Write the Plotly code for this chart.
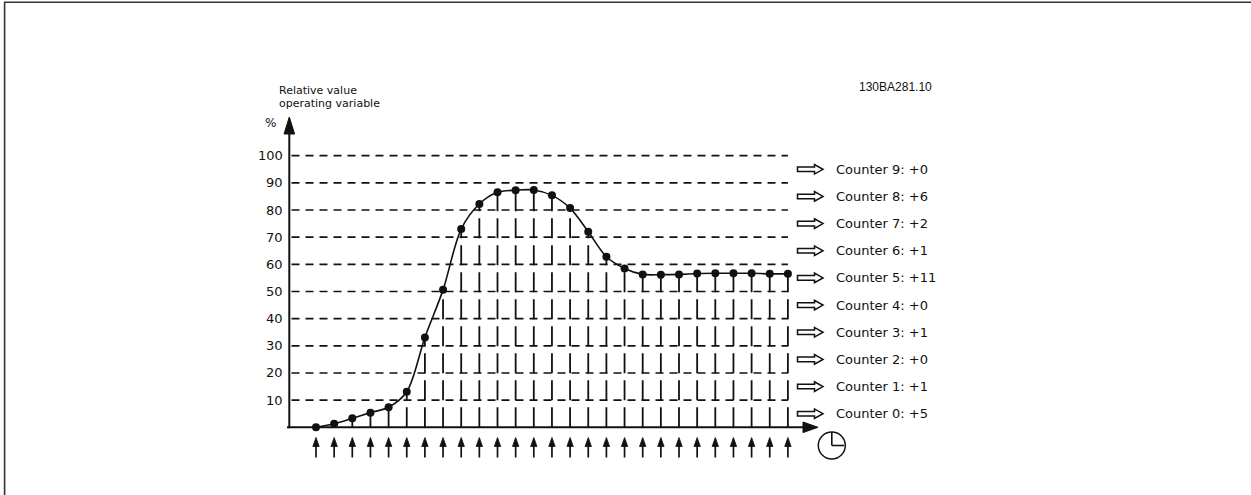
import plotly.graph_objects as go

# ---------------- data ----------------
samples = list(range(27))
values = [0.0, 1.3, 3.3, 5.4, 7.4, 13.1, 33.1, 50.6, 73.0, 82.2, 86.5, 87.3, 87.4,
          85.4, 80.7, 72.0, 62.8, 58.5, 56.3, 56.2, 56.3, 56.6, 56.7, 56.7, 56.7,
          56.5, 56.5]
grid_levels = [10, 20, 30, 40, 50, 60, 70, 80, 90, 100]
tick_labels = ["10", "20", "30", "40", "50", "60", "70", "80", "90", "100"]
counter_ids = [0, 1, 2, 3, 4, 5, 6, 7, 8, 9]
counter_counts = [5, 1, 0, 1, 0, 11, 1, 2, 6, 0]
counter_mid = [5, 15, 25, 35, 45, 55, 65, 75, 85, 95]
y_title = ["Relative value", "operating variable"]
doc_code = "130BA281.10"

# ---------------- layout geometry ----------------
W, H = 1251, 495
X0PX, DXPX = 316.0, 18.15     # pixel of sample 0, pixels per sample
Y0PX, DYPX = 427.3, 2.716     # pixel of value 0, pixels per unit
xr = [(0 - X0PX) / DXPX, (W - X0PX) / DXPX]
yr = [(Y0PX - H) / DYPX, (Y0PX - 0) / DYPX]

def px(x):
    return x / W

def py(y):
    return 1 - y / H

def vy(ypix):
    return (Y0PX - ypix) / DYPX

INK = "#111111"
FONT = "DejaVu Sans"

fig = go.Figure()
shapes = []
annots = []

# frame (left and top edge)
shapes.append(dict(type="line", xref="paper", yref="paper", x0=px(4.6), x1=px(4.6),
                   y0=0, y1=py(2.2), line=dict(color="#333333", width=1.6)))
shapes.append(dict(type="line", xref="paper", yref="paper", x0=px(4.0), x1=1,
                   y0=py(2.2), y1=py(2.2), line=dict(color="#333333", width=1.6)))

# horizontal dashed levels
for lv in grid_levels:
    shapes.append(dict(type="line", xref="x", yref="y", x0=-1.35, x1=samples[-1],
                       y0=lv, y1=lv, line=dict(color=INK, width=1.7, dash="8px,6px")))

# axes
shapes.append(dict(type="line", xref="paper", yref="paper", x0=px(289.3), x1=px(289.3),
                   y0=py(428.3), y1=py(132), line=dict(color=INK, width=2)))
shapes.append(dict(type="path", xref="paper", yref="paper",
                   path=f"M{px(284.0)},{py(134)} L{px(289.3)},{py(117)} L{px(294.6)},{py(134)} Z",
                   fillcolor=INK, line=dict(color=INK, width=1)))
shapes.append(dict(type="line", xref="paper", yref="paper", x0=px(287), x1=px(805),
                   y0=py(Y0PX), y1=py(Y0PX), line=dict(color=INK, width=2)))
shapes.append(dict(type="path", xref="paper", yref="paper",
                   path=f"M{px(803)},{py(422.0)} L{px(818)},{py(Y0PX)} L{px(803)},{py(432.6)} Z",
                   fillcolor=INK, line=dict(color=INK, width=1)))

# vertical dashed drop lines (from axis up to each sample)
vx, vyv = [], []
for s, v in zip(samples, values):
    vx += [s, s, None]
    vyv += [0, v, None]
fig.add_trace(go.Scatter(x=vx, y=vyv, mode="lines", hoverinfo="skip",
                         line=dict(color=INK, width=1.8, dash="20px,7px"),
                         connectgaps=False, showlegend=False))

# the measured curve
fig.add_trace(go.Scatter(x=samples, y=values, mode="lines+markers",
                         line=dict(color=INK, width=1.6, shape="spline", smoothing=0.9),
                         marker=dict(color=INK, size=8, line=dict(width=0)),
                         showlegend=False))

# sampling arrows below the axis
ax_, ay_ = [], []
for s in samples:
    ax_ += [s, s, None]
    ay_ += [vy(457.5), vy(444), None]
    hw = 3.2 / DXPX
    shapes.append(dict(type="path", xref="x", yref="paper",
                       path=f"M{s - hw},{py(446.5)} L{s},{py(437.5)} L{s + hw},{py(446.5)} Z",
                       fillcolor=INK, line=dict(color=INK, width=0.8)))
fig.add_trace(go.Scatter(x=ax_, y=ay_, mode="lines", hoverinfo="skip",
                         line=dict(color=INK, width=1.7), showlegend=False))

# clock symbol
shapes.append(dict(type="circle", xref="paper", yref="paper",
                   x0=px(818.3), x1=px(845.3), y0=py(459), y1=py(432),
                   line=dict(color=INK, width=1.5)))
shapes.append(dict(type="line", xref="paper", yref="paper", x0=px(831.8), x1=px(831.8),
                   y0=py(432), y1=py(445.5), line=dict(color=INK, width=1.6)))
shapes.append(dict(type="line", xref="paper", yref="paper", x0=px(831.8), x1=px(844),
                   y0=py(445.5), y1=py(445.5), line=dict(color=INK, width=1.6)))

# counter arrows and labels
h1 = 2.3 / DYPX
h2 = 4.8 / DYPX
for cid, cnt, mid in zip(counter_ids, counter_counts, counter_mid):
    xa, xb, xc = px(797.5), px(814.5), px(823)
    path = (f"M{xa},{mid - h1} L{xb},{mid - h1} L{xb},{mid - h2} L{xc},{mid} "
            f"L{xb},{mid + h2} L{xb},{mid + h1} L{xa},{mid + h1} Z")
    shapes.append(dict(type="path", xref="paper", yref="y", path=path,
                       fillcolor="white", line=dict(color=INK, width=1.5)))
    annots.append(dict(xref="paper", yref="y", x=px(834), y=mid, xanchor="left",
                       yanchor="middle", showarrow=False,
                       text=f"Counter {cid}: +{cnt}",
                       font=dict(family=FONT, size=13, color=INK)))

# tick labels
for lv, lab in zip(grid_levels, tick_labels):
    annots.append(dict(xref="paper", yref="y", x=px(284.5), y=lv, xanchor="right",
                       yanchor="middle", showarrow=False, text=lab,
                       font=dict(family=FONT, size=13, color=INK)))

# axis titles
annots.append(dict(xref="paper", yref="paper", x=px(278), y=py(123), xanchor="right",
                   yanchor="middle", showarrow=False, text="%",
                   font=dict(family=FONT, size=12, color=INK)))
for i, t in enumerate(y_title):
    annots.append(dict(xref="paper", yref="paper", x=px(276.5), y=py(90.7 + 12.6 * i),
                       xanchor="left", yanchor="middle", showarrow=False, text=t,
                       font=dict(family=FONT, size=11, color=INK)))
annots.append(dict(xref="paper", yref="paper", x=px(895.5), y=py(86.5), xanchor="center",
                   yanchor="middle", showarrow=False, text=doc_code,
                   font=dict(family="Liberation Sans", size=12, color=INK)))

fig.update_layout(
    width=W, height=H, margin=dict(l=0, r=0, t=0, b=0),
    paper_bgcolor="white", plot_bgcolor="white",
    xaxis=dict(range=xr, visible=False, fixedrange=True),
    yaxis=dict(range=yr, visible=False, fixedrange=True),
    shapes=shapes, annotations=annots, showlegend=False,
)

fig.write_html("out.html", config={"displayModeBar": False},
               post_script="document.body.style.margin='0';document.body.style.overflow='hidden';")
